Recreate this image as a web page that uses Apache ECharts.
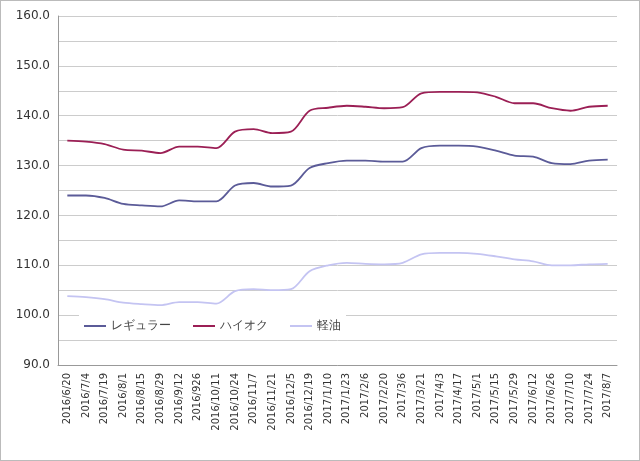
<!DOCTYPE html><html><head><meta charset="utf-8"><script src="https://cdn.jsdelivr.net/npm/echarts@6/dist/echarts.min.js"></script></head><body style="margin:0"><div id="c" style="width:638px;height:459px;border:1px solid #bbb"></div><script>
const categories=["2016/6/20","2016/7/4","2016/7/19","2016/8/1","2016/8/15","2016/8/29","2016/9/12","2016/926","2016/10/11","2016/10/24","2016/11/7","2016/11/21","2016/12/5","2016/12/19","2017/1/10","2017/1/23","2017/2/6","2017/2/20","2017/3/6","2017/3/21","2017/4/3","2017/4/17","2017/5/1","2017/5/15","2017/5/29","2017/6/12","2017/6/26","2017/7/10","2017/7/24","2017/8/7"];
const regular=[124,124,123.5,122.3,122,121.8,123,122.8,122.8,126,126.5,125.8,126,129.5,130.5,131,131,130.8,130.8,133.5,134,134,133.8,133,132,131.8,130.5,130.3,131,131.2];
const highoc=[135,134.8,134.3,133.2,133,132.5,133.8,133.8,133.5,136.8,137.3,136.5,136.8,141,141.6,142,141.8,141.5,141.7,144.5,144.8,144.8,144.7,143.8,142.5,142.5,141.5,141,141.8,142];
const diesel=[103.8,103.6,103.2,102.5,102.2,102,102.6,102.6,102.3,104.8,105.2,105,105.2,108.8,110,110.5,110.3,110.2,110.5,112.2,112.5,112.5,112.3,111.8,111.2,110.8,110,110,110.2,110.3];
const ch=echarts.init(document.getElementById('c'));
const mk=(n,d,c)=>({name:n,type:'line',data:d,smooth:0.3,symbol:'none',lineStyle:{color:c,width:1.8},itemStyle:{color:c}});
ch.setOption({animation:false,textStyle:{fontFamily:'DejaVu Sans'},
grid:{left:57,right:22,top:15,bottom:95},
legend:{left:78,top:314,itemWidth:22,itemHeight:2,itemGap:22,icon:'rect',textStyle:{fontSize:12,color:'#444'},data:['レギュラー','ハイオク','軽油'],backgroundColor:'#fff'},
xAxis:{type:'category',data:categories,boundaryGap:true,axisLine:{lineStyle:{color:'#999'}},axisTick:{show:false},axisLabel:{rotate:89.99,hideOverlap:false,margin:8,interval:0,fontSize:10,color:'#333'}},
yAxis:{type:'value',min:90,max:160,interval:5,axisLine:{show:true,lineStyle:{color:'#999'}},axisTick:{show:false},splitLine:{lineStyle:{color:'#ccc'}},axisLabel:{fontSize:12,color:'#333',formatter:v=>v%10===0?v.toFixed(1):''}},
series:[mk('レギュラー',regular,'#5b5b98'),mk('ハイオク',highoc,'#9b1f55'),mk('軽油',diesel,'#c4c4f2')]});
</script></body></html>
